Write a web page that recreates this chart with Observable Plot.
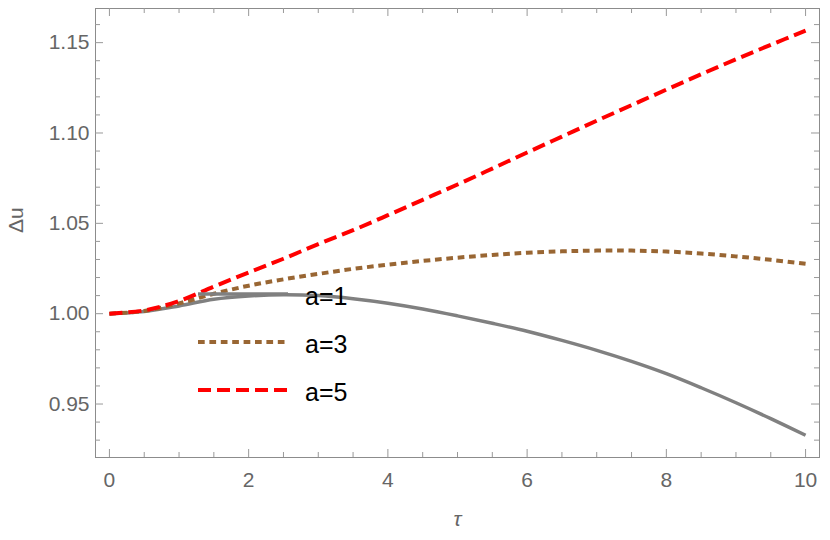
<!DOCTYPE html>
<html><head><meta charset="utf-8">
<script src="https://cdn.jsdelivr.net/npm/d3@7"></script>
<script src="https://cdn.jsdelivr.net/npm/@observablehq/plot@0.6"></script>
<style>
body{margin:0;background:#fff;}
#wrap{position:relative;width:830px;height:540px;}
#legend{position:absolute;left:0;top:0;pointer-events:none;}
</style></head><body>
<div id="wrap"></div>
<script>
// ---- data ----
const tau = [0,0.5,1,1.5,2,2.5,3,3.5,4,4.5,5,5.5,6,6.5,7,7.5,8,8.5,9,9.5,10];
const du_a1 = [1.0000,1.0012,1.0043,1.0080,1.0098,1.0105,1.0100,1.0083,1.0058,1.0026,0.9988,0.9947,0.9903,0.9852,0.9797,0.9736,0.9668,0.9590,0.9507,0.9419,0.9327];
const du_a3 = [1.0000,1.0015,1.0057,1.0110,1.0155,1.0190,1.0220,1.0248,1.0271,1.0292,1.0310,1.0325,1.0337,1.0345,1.0349,1.0349,1.0344,1.0333,1.0317,1.0298,1.0276];
const du_a5 = [1.0000,1.0018,1.0070,1.0150,1.0228,1.0304,1.0385,1.0462,1.0545,1.0630,1.0715,1.0803,1.0892,1.0980,1.1068,1.1154,1.1240,1.1325,1.1408,1.1488,1.1567];
const seriesNames = ["a=1","a=3","a=5"];
const xMajor = [0,2,4,6,8,10];
const xMinor = [0.5,1,1.5,2.5,3,3.5,4.5,5,5.5,6.5,7,7.5,8.5,9,9.5];
const yMajor = [0.95,1.00,1.05,1.10,1.15];
const yMinor = [0.93,0.94,0.96,0.97,0.98,0.99,1.01,1.02,1.03,1.04,1.06,1.07,1.08,1.09,1.11,1.12,1.13,1.14,1.16];

// ---- styles ----
const seriesStyle = [
  {stroke:"#808080", strokeWidth:3.5, dash:null},
  {stroke:"#996633", strokeWidth:4, dash:"6.7,4.7"},
  {stroke:"#ff0000", strokeWidth:4, dash:"13,6"}
];
const series = [du_a1, du_a3, du_a5];
const rows = tau.map((t,i)=>({tau:t, a1:du_a1[i], a3:du_a3[i], a5:du_a5[i]}));
const keys = ["a1","a3","a5"];

const W = 830, H = 540, mL = 95, mR = 11, mT = 8, mB = 83;
const PW = W - mL - mR, PH = H - mT - mB;
const tickCol = "#999", major = 8, minor = 5;
const font = "'Liberation Sans', Arial, Helvetica, sans-serif";

const marks = [
  Plot.frame({stroke:"#8c8c8c", strokeWidth:1}),
  // bottom / top ticks
  Plot.ruleX(xMajor, {insetTop: PH - major, stroke: tickCol}),
  Plot.ruleX(xMinor, {insetTop: PH - minor, stroke: tickCol}),
  Plot.ruleX(xMajor, {insetBottom: PH - major, stroke: tickCol}),
  Plot.ruleX(xMinor, {insetBottom: PH - minor, stroke: tickCol}),
  // left / right ticks
  Plot.ruleY(yMajor, {insetRight: PW - major, stroke: tickCol}),
  Plot.ruleY(yMinor, {insetRight: PW - minor, stroke: tickCol}),
  Plot.ruleY(yMajor, {insetLeft: PW - major, stroke: tickCol}),
  Plot.ruleY(yMinor, {insetLeft: PW - minor, stroke: tickCol}),
  Plot.axisX(xMajor, {tickSize:0, tickPadding:15, fontSize:21, tickFormat:d=>String(d), label:null, fill:"#666"}),
  Plot.axisY(yMajor, {tickSize:0, tickPadding:6, fontSize:21, tickFormat:d3.format(".2f"), label:null, fill:"#666"}),
  Plot.text(["Δu"], {frameAnchor:"left", dx:-79, rotate:-90, fontSize:21, fill:"#666"}),
  Plot.text(["τ"], {frameAnchor:"bottom", dy:68, fontSize:21, fontStyle:"italic", fill:"#666"})
];
keys.forEach((k,i)=>{
  const s = seriesStyle[i];
  marks.push(Plot.line(rows, {x:"tau", y:k, stroke:s.stroke, strokeWidth:s.strokeWidth,
    strokeDasharray: s.dash || undefined, curve:"catmull-rom", strokeLinecap:"butt"}));
});

const chart = Plot.plot({
  width: W, height: H,
  marginLeft: mL, marginRight: mR, marginTop: mT, marginBottom: mB,
  x: {domain: [-0.2, 10.2], axis: null},
  y: {domain: [0.9204, 1.1689], axis: null},
  style: {fontFamily: font, background: "#fff", color: "#666"},
  marks
});
document.getElementById("wrap").appendChild(chart);

// ---- legend (placed inside the frame, as in the reference) ----
const leg = d3.select("#wrap").append("svg").attr("id","legend")
  .attr("width", W).attr("height", H);
const legX0 = 198, legX1 = 288, legTextX = 305, legY0 = 294, legDy = 48;
seriesNames.forEach((name,i)=>{
  const s = seriesStyle[i];
  const y = legY0 + i*legDy;
  const ln = leg.append("line").attr("x1",legX0).attr("x2",legX1).attr("y1",y).attr("y2",y)
    .attr("stroke",s.stroke).attr("stroke-width",s.strokeWidth);
  if (s.dash) ln.attr("stroke-dasharray", s.dash);
  leg.append("text").attr("x",legTextX).attr("y",y+2).attr("dominant-baseline","central")
    .attr("font-family",font).attr("font-size",25).attr("fill","#000").text(name);
});
</script>
</body></html>
